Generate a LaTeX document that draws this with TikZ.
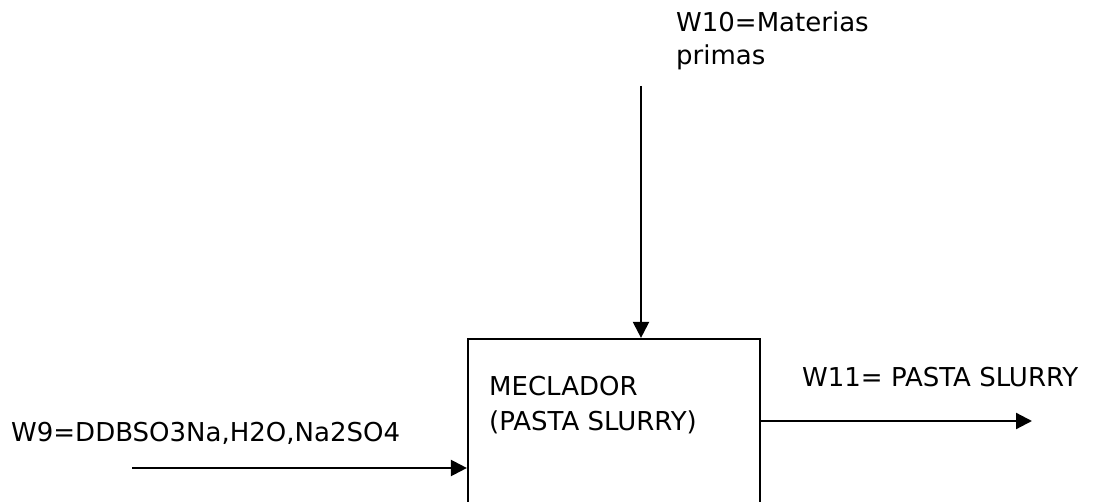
\documentclass[tikz,border=0pt]{standalone}
\usepackage{fontspec}
\setmainfont{DejaVu Sans}
\usetikzlibrary{arrows.meta}
\begin{document}
\begin{tikzpicture}[x=1pt,y=-1pt,
  lbl/.style={anchor=base west,inner sep=0pt,font=\fontsize{26}{34}\selectfont},
  flow/.style={line width=2.2pt,-{Triangle[length=16pt,width=16pt]}},
  unit/.style={draw,line width=2.2pt,minimum width=292pt,minimum height=190pt,inner sep=0pt}]
\clip (0,0) rectangle (1106,502);
\fill[white] (0,0) rectangle (1106,502);
\node[unit] (box) at (614,434) {};
\node[lbl] (boxtxta) at (489,396) {MECLADOR};
\node[lbl] (boxtxtb) at (489,431) {(PASTA SLURRY)};
\node[lbl] (w10a) at (676,32) {W10=Materias};
\node[lbl] (w10b) at (676,65) {primas};
\node[lbl] (w9) at (11,442) {W9=DDBSO3Na,H2O,Na2SO4};
\node[lbl] (w11) at (802,387) {W11= PASTA SLURRY};
\coordinate (topin) at (641,86);
\coordinate (leftin) at (132,468);
\coordinate (rightout) at (1032,421);
\draw[flow] (topin) -- (topin |- box.north);
\draw[flow] (leftin) -- (leftin -| box.west);
\draw[flow] (rightout -| box.east) -- (rightout);
\end{tikzpicture}
\end{document}
